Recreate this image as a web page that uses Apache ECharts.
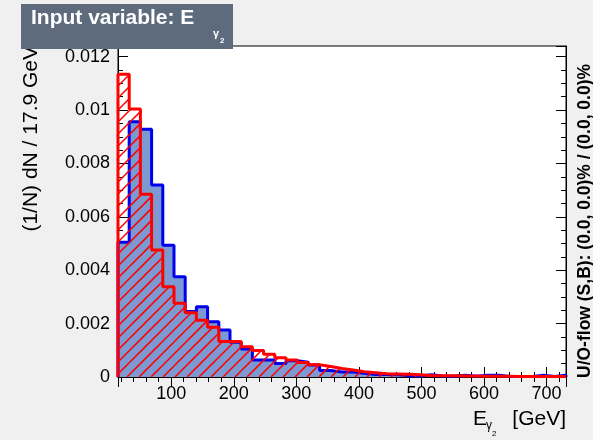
<!DOCTYPE html>
<html><head><meta charset="utf-8">
<script src="https://cdn.jsdelivr.net/npm/echarts@6/dist/echarts.min.js"></script>
<style>html,body{margin:0;padding:0;background:#f0f0f0}#c{width:593px;height:440px}</style>
</head><body><div id="c"></div>
<script>
// ---- data ----
const xMin = 15;
const binWidth = 17.9;
const signal = [0.00505, 0.00956, 0.00928, 0.00719, 0.00494, 0.00376, 0.00245, 0.00263, 0.00207, 0.00176,
  0.00130, 0.00105, 0.00064, 0.00064, 0.00051, 0.00061, 0.00055, 0.00045, 0.00024, 0.00019,
  0.00019, 0.00014, 0.00009, 0.00009, 0.00008, 0.00005, 0.00004, 0.00008, 0.00004, 0.00003,
  0.00007, 0.00003, 0.00007, 0.00007, 0.00002, 0.00002, 0.00002, 0.00007, 0.00002, 0.00007];
const background = [0.01134, 0.01004, 0.00685, 0.00476, 0.00338, 0.00276, 0.00241, 0.00213, 0.00186, 0.00133,
  0.00133, 0.00113, 0.00099, 0.00085, 0.00072, 0.00064, 0.00054, 0.00046, 0.00039, 0.00032,
  0.00026, 0.00020, 0.00016, 0.00012, 0.00011, 0.00010, 0.00008, 0.00006, 0.00005, 0.00005,
  0.00004, 0.00004, 0.00003, 0.00003, 0.00003, 0.00002, 0.00002, 0.00002, 0.00002, 0.00002];
const yMax = 0.0124;
const yStep = 0.002;
const titleText = 'Input variable: E';
const yTitle = '(1/N) dN / 17.9 GeV';
const xTitleUnit = '[GeV]';
const flowText = 'U/O-flow (S,B): (0.0, 0.0)% / (0.0, 0.0)%';

const xMax = xMin + signal.length * binWidth;
function steps(vals) {
  const pts = [[xMin, 0]];
  vals.forEach((v, i) => pts.push([xMin + i * binWidth, v]));
  pts.push([xMin + vals.length * binWidth, vals[vals.length - 1]]);
  pts.push([xMin + vals.length * binWidth, 0]);
  return pts;
}
const bgBins = background.map((v, i) => [xMin + i * binWidth, xMin + (i + 1) * binWidth, v]);
const HATCH = 12;
function hatchItem(params, api) {
  const p0 = api.coord([api.value(0), 0]);
  const p1 = api.coord([api.value(1), api.value(2)]);
  const left = p0[0], right = p1[0], bottom = p0[1], top = p1[1];
  const children = [];
  const cStart = Math.ceil((left + top) / HATCH) * HATCH;
  for (let c = cStart; c <= right + bottom; c += HATCH) {
    const xa = Math.max(left, c - bottom);
    const xb = Math.min(right, c - top);
    if (xb <= xa) continue;
    children.push({type: 'line', shape: {x1: xa, y1: c - xa, x2: xb, y2: c - xb},
      style: {stroke: '#ff0000', lineWidth: 1.5}});
  }
  return {type: 'group', children: children};
}

const FF = '"Liberation Sans", Arial, Helvetica, sans-serif';
const chart = echarts.init(document.getElementById('c'), null, {renderer: 'canvas'});
const axBase = {
  type: 'value', min: xMin, max: xMax,
  axisLine: {show: true, lineStyle: {color: '#000', width: 1}},
  axisTick: {show: true, inside: true, length: 10, lineStyle: {color: '#000'}},
  minorTick: {show: true, splitNumber: 5, length: 5, lineStyle: {color: '#000'}},
  splitLine: {show: false}
};
chart.setOption({
  backgroundColor: '#f0f0f0',
  animation: false,
  grid: {left: 118, right: 27, top: 46, bottom: 63, show: true, backgroundColor: '#ffffff', borderColor: '#000', borderWidth: 1},
  xAxis: [
    Object.assign({}, axBase, {position: 'bottom',
      axisLabel: {show: true, showMinLabel: false, showMaxLabel: false, color: '#000', fontSize: 18, fontFamily: FF, margin: 8}}),
    Object.assign({}, axBase, {position: 'top', axisLabel: {show: false}})
  ],
  yAxis: [
    {type: 'value', min: 0, max: yMax, interval: yStep, position: 'left',
      axisLine: {show: true, lineStyle: {color: '#000'}},
      axisTick: {show: true, inside: true, length: 10, lineStyle: {color: '#000'}},
      minorTick: {show: true, splitNumber: 4, length: 5, lineStyle: {color: '#000'}},
      splitLine: {show: false},
      axisLabel: {color: '#000', fontSize: 18, fontFamily: FF, margin: 8, showMaxLabel: false,
        formatter: v => String(+v.toFixed(4))}},
    {type: 'value', min: 0, max: yMax, interval: yStep, position: 'right',
      axisLine: {show: true, lineStyle: {color: '#000'}},
      axisTick: {show: true, inside: true, length: 10, lineStyle: {color: '#000'}},
      minorTick: {show: true, splitNumber: 4, length: 5, lineStyle: {color: '#000'}},
      splitLine: {show: false}, axisLabel: {show: false}}
  ],
  series: [
    {type: 'line', z: 2, step: 'end', symbol: 'none', data: steps(signal),
      lineStyle: {color: '#0000ee', width: 3}, areaStyle: {color: '#7d99d1', opacity: 1}},
    {type: 'custom', z: 3, data: bgBins, encode: {x: [0, 1], y: 2}, renderItem: hatchItem, clip: true, silent: true},
    {type: 'line', z: 4, step: 'end', symbol: 'none', data: steps(background),
      lineStyle: {color: '#ff0000', width: 3}}
  ],
  graphic: [
    {type: 'text', z: 10, x: 31, y: 46, rotation: Math.PI / 2,
      style: {text: yTitle, font: '21px ' + FF, fill: '#000', align: 'right', verticalAlign: 'middle'}},
    {type: 'text', z: 10, x: 585, y: 378, rotation: Math.PI / 2,
      style: {text: flowText, font: 'bold 17.5px ' + FF, fill: '#000', align: 'left', verticalAlign: 'middle'}},
    {type: 'rect', z: 20, shape: {x: 21, y: 4, width: 212, height: 45}, style: {fill: '#5D6B7D'}},
    {type: 'text', z: 21, x: 31, y: 18, style: {text: titleText, font: 'bold 21px ' + FF, fill: '#fff', align: 'left', verticalAlign: 'middle'}},
    {type: 'text', z: 21, x: 213, y: 34, style: {text: 'γ', font: 'bold 11px ' + FF, fill: '#fff', align: 'left', verticalAlign: 'middle'}},
    {type: 'text', z: 21, x: 220, y: 41, style: {text: '2', font: 'bold 8px ' + FF, fill: '#fff', align: 'left', verticalAlign: 'middle'}},
    {type: 'text', z: 10, x: 566, y: 419, style: {text: xTitleUnit, font: '21px ' + FF, fill: '#000', align: 'right', verticalAlign: 'middle'}},
    {type: 'text', z: 10, x: 473, y: 419, style: {text: 'E', font: '21px ' + FF, fill: '#000', align: 'left', verticalAlign: 'middle'}},
    {type: 'text', z: 10, x: 486, y: 426, style: {text: 'γ', font: '12px ' + FF, fill: '#000', align: 'left', verticalAlign: 'middle'}},
    {type: 'text', z: 10, x: 492, y: 434, style: {text: '2', font: '8px ' + FF, fill: '#000', align: 'left', verticalAlign: 'middle'}}
  ]
});
</script></body></html>
